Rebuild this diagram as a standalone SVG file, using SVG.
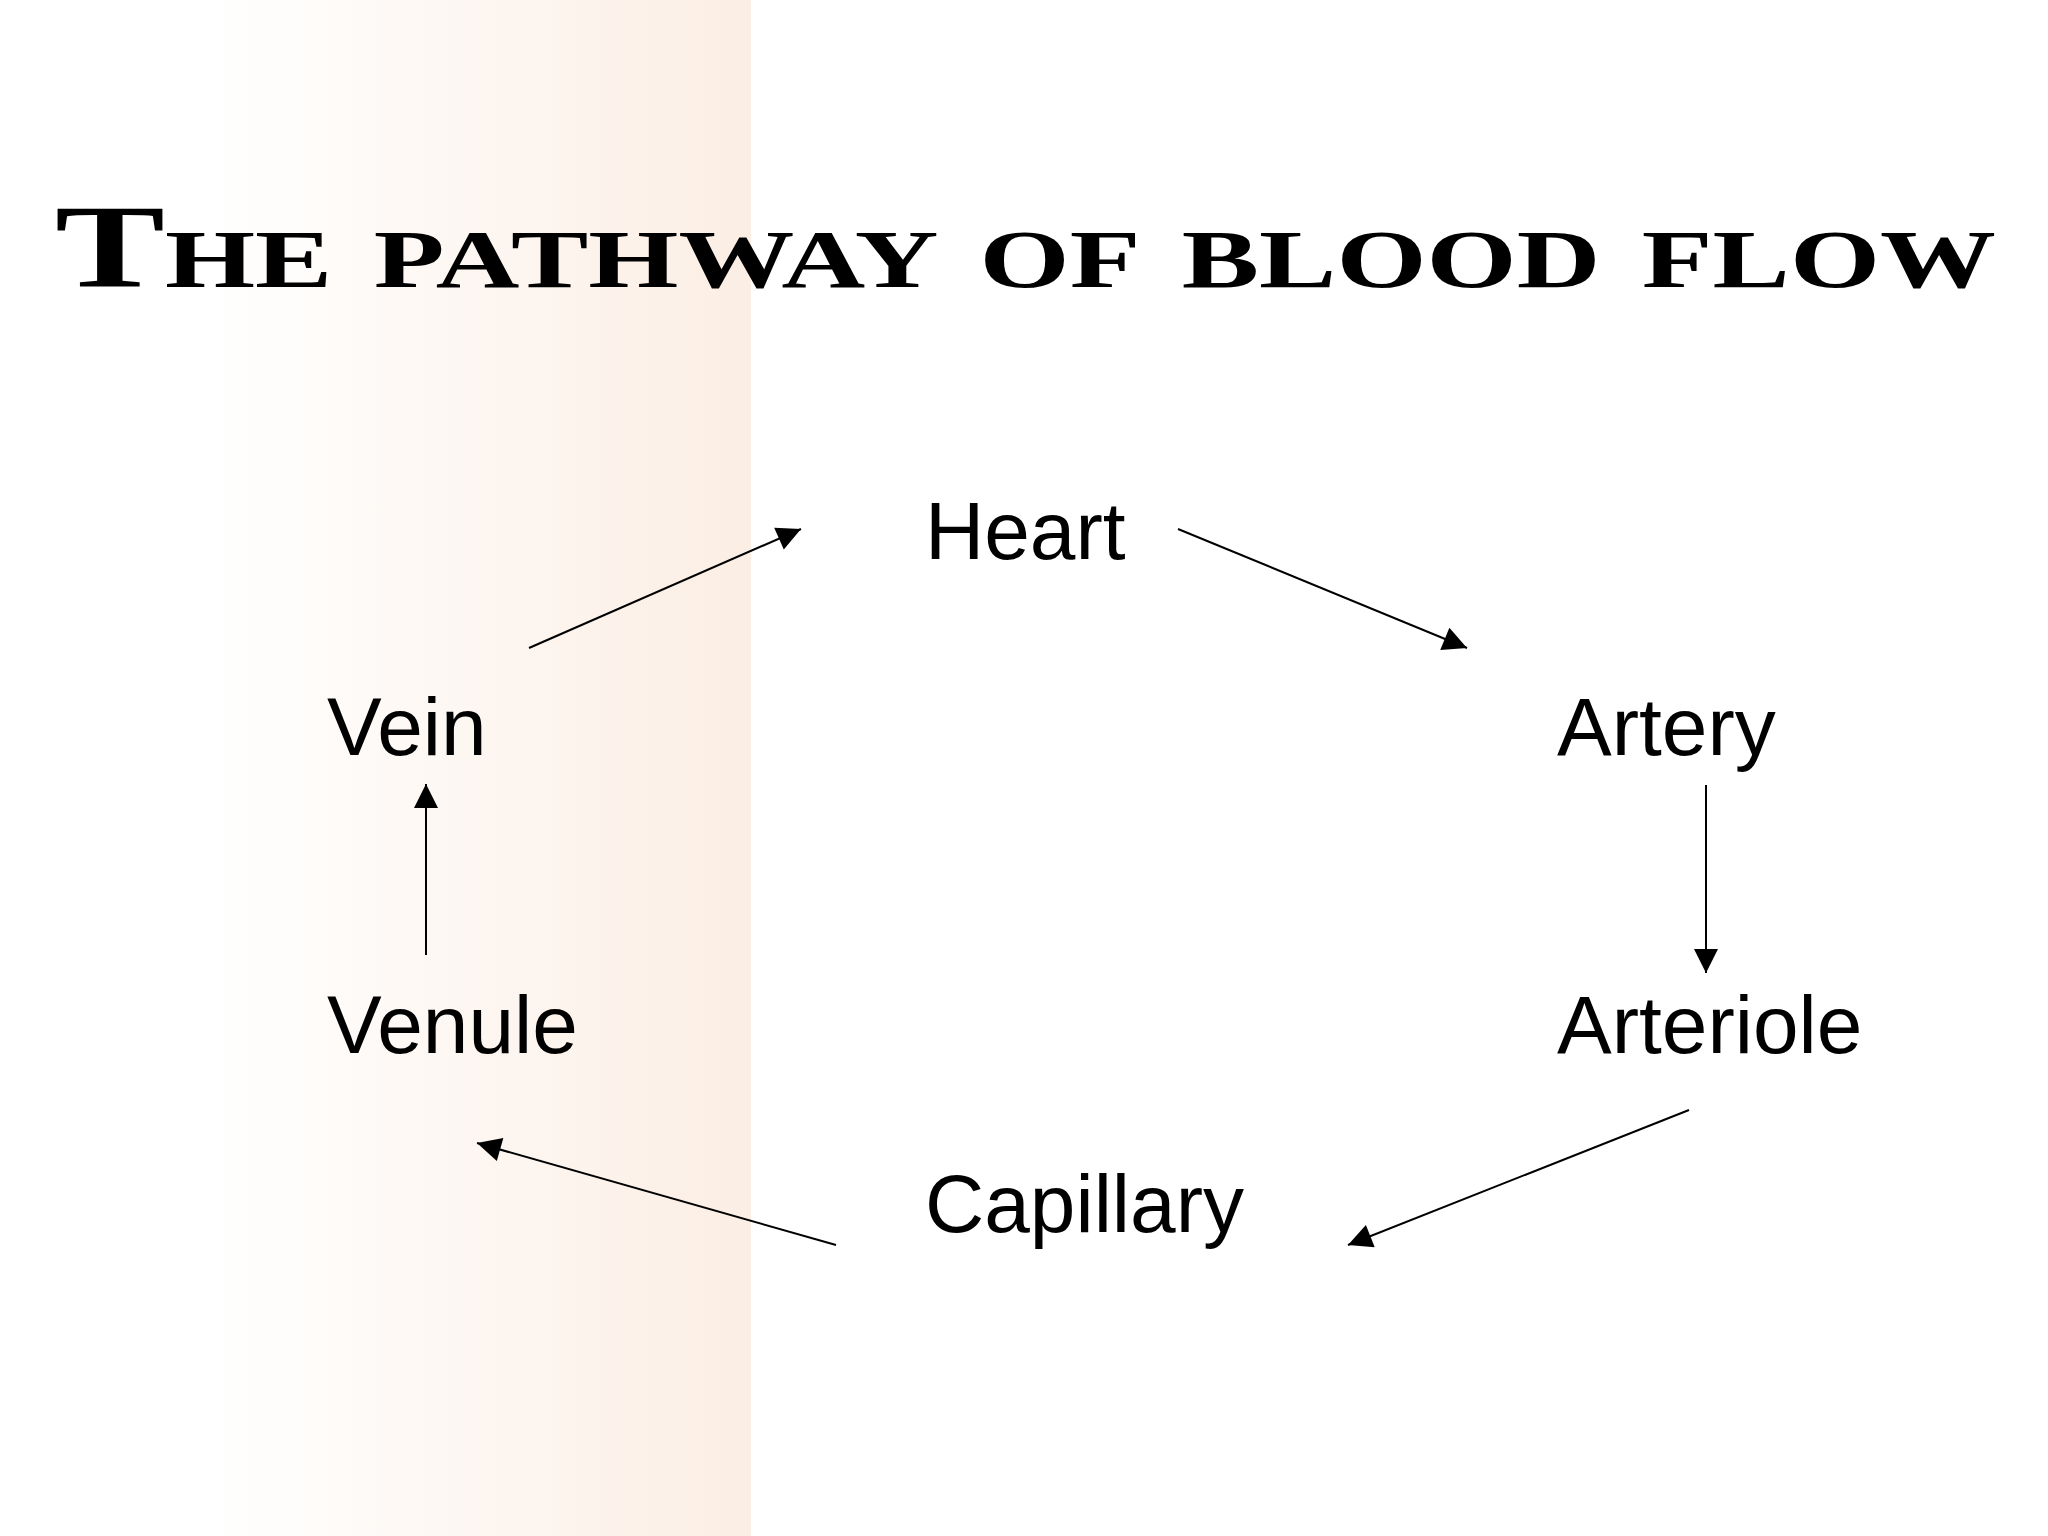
<svg xmlns="http://www.w3.org/2000/svg" width="2048" height="1536" viewBox="0 0 2048 1536">
<style>
.lbl{font-family:"Liberation Sans",Arial,sans-serif;font-size:82px;fill:#000}
.conn line{stroke:#000;stroke-width:2;marker-end:url(#ah)}
</style>
<defs>
<linearGradient id="band" x1="0" y1="0" x2="1" y2="0">
<stop offset="0" stop-color="#ffffff"/>
<stop offset="1" stop-color="#fbeee4"/>
</linearGradient>
<marker id="ah" viewBox="0 0 10 10" refX="10" refY="5" markerWidth="30" markerHeight="24" markerUnits="userSpaceOnUse" orient="auto">
<path d="M0,0 L10,5 L0,10 Z" fill="#000"/>
</marker>
</defs>
<rect width="2048" height="1536" fill="#fff"/>
<rect x="202" y="0" width="549" height="1536" fill="url(#band)"/>
<text x="55" y="287" textLength="1941" lengthAdjust="spacingAndGlyphs" style="font-family:'Liberation Serif','Times New Roman',serif;font-weight:bold;font-size:118px;font-variant:small-caps">The pathway of blood flow</text>
<g id="heart"><text class="lbl" x="925" y="559">Heart</text></g>
<g id="vein"><text class="lbl" x="327" y="755">Vein</text></g>
<g id="artery"><text class="lbl" x="1557" y="755">Artery</text></g>
<g id="venule"><text class="lbl" x="327" y="1053">Venule</text></g>
<g id="arteriole"><text class="lbl" x="1557" y="1053">Arteriole</text></g>
<g id="capillary"><text class="lbl" x="925" y="1232">Capillary</text></g>
<g class="conn">
<line x1="529" y1="648" x2="801" y2="529"/>
<line x1="1178" y1="529" x2="1467" y2="648"/>
<line x1="1706" y1="785" x2="1706" y2="973"/>
<line x1="1689" y1="1110" x2="1348" y2="1245"/>
<line x1="836" y1="1245" x2="477" y2="1143"/>
<line x1="426" y1="955" x2="426" y2="784"/>
</g>
</svg>
